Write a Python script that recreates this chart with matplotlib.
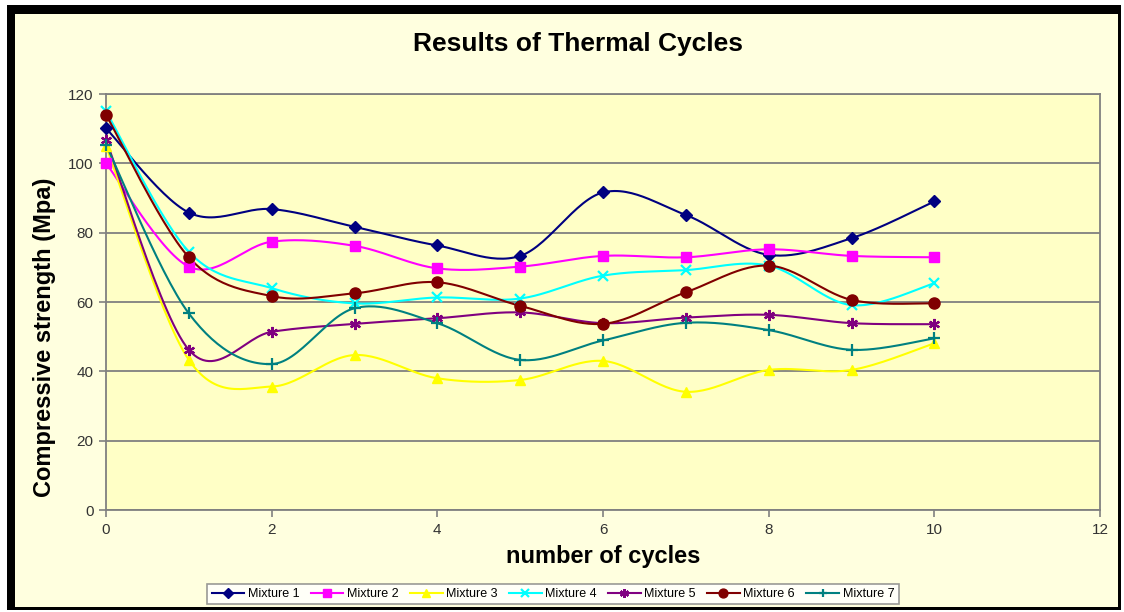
import numpy as np
import matplotlib
matplotlib.use("Agg")
import matplotlib.pyplot as plt
from matplotlib.patches import Rectangle
from matplotlib.lines import Line2D

plt.rcParams['font.family'] = ['Liberation Sans', 'DejaVu Sans']

cycles = [0, 1, 2, 3, 4, 5, 6, 7, 8, 9, 10]
mixture_1 = [110.1, 85.8, 86.8, 81.7, 76.3, 73.3, 91.6, 85.1, 73.6, 78.4, 89.0]
mixture_2 = [100.0, 70.2, 77.4, 76.2, 69.7, 70.2, 73.3, 72.9, 75.2, 73.3, 72.9]
mixture_3 = [105.0, 43.3, 35.6, 44.7, 38.0, 37.5, 43.0, 34.1, 40.4, 40.4, 48.1]
mixture_4 = [115.0, 74.5, 64.0, 59.6, 61.3, 61.0, 67.6, 69.2, 70.5, 59.1, 65.4]
mixture_5 = [106.7, 46.2, 51.4, 53.7, 55.3, 57.0, 53.9, 55.5, 56.3, 53.9, 53.6]
mixture_6 = [114.0, 72.9, 61.7, 62.5, 65.7, 58.9, 53.7, 62.8, 70.5, 60.6, 59.6]
mixture_7 = [105.3, 56.7, 42.1, 58.2, 53.9, 43.3, 48.9, 54.0, 51.9, 46.2, 49.5]

series_names = ["Mixture 1", "Mixture 2", "Mixture 3", "Mixture 4",
                "Mixture 5", "Mixture 6", "Mixture 7"]
series_values = [mixture_1, mixture_2, mixture_3, mixture_4,
                 mixture_5, mixture_6, mixture_7]
colors = ["#000080", "#FF00FF", "#FFFF00", "#00FFFF", "#800080", "#800000", "#008080"]
markers = ["D", "s", "^", "x", (6, 2, 0), "o", "+"]
msizes = [6, 7.5, 7.5, 7, 8, 8, 8]

title = "Results of Thermal Cycles"
xlabel = "number of cycles"
ylabel = "Compressive strength (Mpa)"
xticks = [0, 2, 4, 6, 8, 10, 12]
yticks = [0, 20, 40, 60, 80, 100, 120]


def smooth(x, y, n=30):
    # Excel-style smoothed line (Catmull-Rom / cubic Bezier) for rendering
    x = np.asarray(x, float)
    y = np.asarray(y, float)
    P = np.column_stack([x, y])
    pts = []
    for i in range(len(P) - 1):
        p0 = P[i - 1] if i > 0 else P[i]
        p1 = P[i]
        p2 = P[i + 1]
        p3 = P[i + 2] if i + 2 < len(P) else P[i + 1]
        b1 = p1 + (p2 - p0) / 6.0
        b2 = p2 - (p3 - p1) / 6.0
        t = np.linspace(0, 1, n)[:, None]
        seg = ((1 - t) ** 3) * p1 + 3 * ((1 - t) ** 2) * t * b1 + 3 * (1 - t) * t ** 2 * b2 + t ** 3 * p2
        pts.append(seg if i == 0 else seg[1:])
    pts = np.vstack(pts)
    return pts[:, 0], pts[:, 1]


fig = plt.figure(figsize=(11.24, 6.12), dpi=100)
fig.patch.set_facecolor("white")

W, H = 1124.0, 612.0
fig.patches.append(Rectangle((7 / W, 1 - 610 / H), (1121 - 7) / W, (610 - 5) / H,
                             transform=fig.transFigure, facecolor="#FFFFDF",
                             edgecolor="none", zorder=-3))
for (x0, y0, w, h) in [(7, 5, 1114, 9), (7, 5, 8, 605), (1118, 5, 3, 605), (7, 607, 1114, 3)]:
    fig.patches.append(Rectangle((x0 / W, 1 - (y0 + h) / H), w / W, h / H,
                                 transform=fig.transFigure, facecolor="black",
                                 edgecolor="none", zorder=-2))

ax = fig.add_axes([106 / W, 1 - 510 / H, (1100 - 106) / W, (510 - 94) / H])
ax.set_zorder(1)
ax.set_facecolor("#FFFFC6")
ax.set_xlim(0, 12)
ax.set_ylim(0, 120)
ax.set_xticks(xticks)
ax.set_yticks(yticks)
ax.yaxis.grid(True, color="#808080", linewidth=1.3)
ax.set_axisbelow(True)
for s in ax.spines.values():
    s.set_color("#808080")
    s.set_linewidth(1.3)
ax.tick_params(axis="both", direction="out", length=5, width=1.2, color="#808080",
               labelsize=11, labelcolor="#333333", pad=4)

handles = []
for name, vals, c, m, ms in zip(series_names, series_values, colors, markers, msizes):
    sx, sy = smooth(cycles, vals)
    ax.plot(sx, sy, color=c, linewidth=1.5, zorder=3, clip_on=False)
    mew = 1.6 if m in ("x", "+") or isinstance(m, tuple) else 1
    ax.plot(cycles, vals, linestyle="none", marker=m, markersize=ms, color=c,
            markeredgecolor=c, markeredgewidth=mew, zorder=4, clip_on=False)
    handles.append(Line2D([0], [0], color=c, linewidth=1.5, marker=m,
                          markersize=ms * 0.8, markeredgecolor=c, markeredgewidth=mew))

fig.text(578 / W, 1 - 44 / H, title, ha="center", va="center",
         fontsize=19, fontweight="bold", color="black")
ax.set_xlabel(xlabel, fontsize=17, fontweight="bold")
ax.xaxis.set_label_coords((603 - 106) / 994, -(556 - 510) / 416)
ax.set_ylabel(ylabel, fontsize=17, fontweight="bold")
ax.yaxis.set_label_coords((45 - 106) / 994, (510 - 337) / 416)
ax.xaxis.label.set_va("center")
ax.yaxis.label.set_va("center")

leg = fig.legend(handles, series_names, loc="center", ncol=7,
                 bbox_to_anchor=(553 / W, 1 - 594 / H), frameon=True, fancybox=False,
                 fontsize=9, handlelength=2.6, handletextpad=0.3, columnspacing=0.9,
                 borderpad=0.35, edgecolor="#808080", facecolor="white")
leg.get_frame().set_linewidth(1.2)
leg.set_zorder(2)

fig.savefig("out.png", dpi=100, facecolor=fig.get_facecolor())
